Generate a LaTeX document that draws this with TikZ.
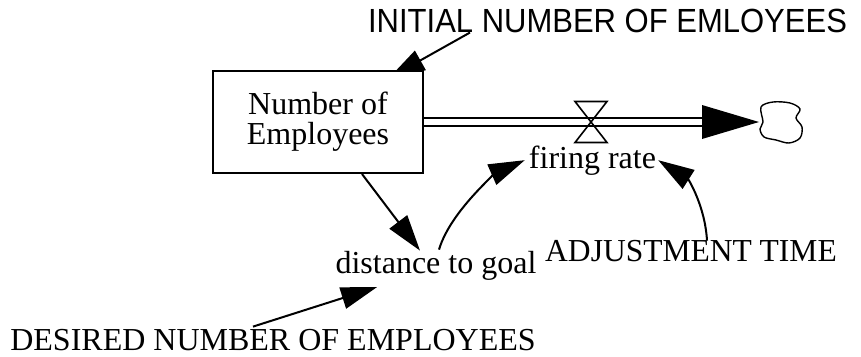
\documentclass[tikz,border=0pt]{standalone}
\usepackage{fontspec}
\usepackage{graphicx}
\setmainfont{Liberation Serif}
\newfontfamily\arialfont{Liberation Sans}
\usetikzlibrary{arrows.meta,backgrounds}
\begin{document}
\begin{tikzpicture}[x=1pt,y=-1pt,
  lbl/.style={inner sep=0pt,anchor=base,font=\fontsize{32}{30}\selectfont},
  sanslbl/.style={lbl,font=\arialfont\fontsize{31}{30}\selectfont},
  stockbox/.style={draw,line width=2pt,fill=white,minimum width=210pt,minimum height=102pt,align=center,font=\fontsize{32}{30}\selectfont},
  link/.style={line width=2pt,-{Triangle[length=36pt,width=22pt]}},
  pipe/.style={double,double distance=6pt,line width=2.2pt}]
\useasboundingbox (0,0) rectangle (861,356);
% nodes
\node[stockbox] (box) at (318,122) {Number of\\Employees};
\node[sanslbl] (init) at (607.5,32) {\scalebox{1}[1.08]{INITIAL NUMBER OF EMLOYEES}};
\node[lbl] (fr) at (592.5,168) {firing rate};
\node[lbl] (dist) at (436,273) {distance to goal};
\node[lbl] (adj) at (691,261) {\scalebox{0.985}[1]{ADJUSTMENT TIME}};
\node[lbl] (des) at (273,350) {DESIRED NUMBER OF EMPLOYEES};
\coordinate (valve) at (591,122);
\coordinate (pend) at (702,122);
\coordinate (cloudtip) at (759,122);
% link from initial value, partly hidden by the stock
\begin{scope}[on background layer]
\draw[link] ([xshift=-137.5pt]init.south) -- ([xshift=71pt,yshift=-8pt]box.north);
\end{scope}
% flow pipe
\draw[pipe] (box.east) -- (pend);
\fill ([yshift=17pt]pend) -- (cloudtip) -- ([yshift=-17pt]pend) -- cycle;
% valve
\draw[line width=1.6pt,line join=miter] ([xshift=-16pt,yshift=20.5pt]valve) -- ([xshift=16pt,yshift=20.5pt]valve)
  -- ([xshift=-16pt,yshift=-20.5pt]valve) -- ([xshift=16pt,yshift=-20.5pt]valve) -- cycle;
% cloud
\draw[line width=1.4pt] plot[smooth cycle,tension=0.55] coordinates
  {(761,107) (773,102) (790,103) (800,109) (796,118) (802,127) (800,138) (789,143) (776,140) (764,137) (760,129) (763,122)};
% info links
\draw[link] ([xshift=44pt]box.south) -- ([xshift=-16pt,yshift=0pt]dist.north);
\draw[link] ([xshift=3pt,yshift=1pt]dist.north) .. controls +(12,-40) and +(-25,11) .. ([xshift=-4pt]fr.west);
\draw[link] ([xshift=16pt,yshift=-1pt]adj.north) .. controls +(-2,-35) and +(30,19) .. ([xshift=2pt]fr.east);
\draw[link] ([xshift=-20pt,yshift=2pt]des.north) -- ([xshift=-59pt,yshift=-7pt]dist.south);
\end{tikzpicture}
\end{document}
